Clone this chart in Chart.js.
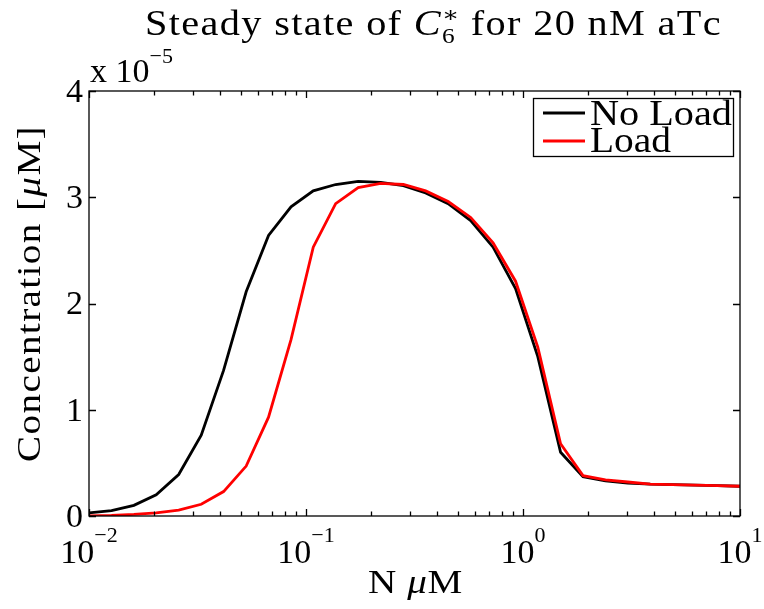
<!DOCTYPE html>
<html>
<head>
<meta charset="utf-8">
<script src="https://cdn.jsdelivr.net/npm/chart.js@4.4.0/dist/chart.umd.min.js"></script>
<style>
  html, body { margin: 0; padding: 0; background: #fff; }
  #wrap { width: 764px; height: 609px; }
</style>
</head>
<body>
<div id="wrap"><canvas id="chart" width="764" height="609"></canvas></div>
<script>
const nValues = [
  0.01, 0.0127, 0.0161, 0.0204, 0.0259, 0.0329, 0.0417, 0.0530, 0.0672, 0.0853,
  0.108, 0.137, 0.174, 0.221, 0.281, 0.356, 0.452, 0.574, 0.728, 0.924,
  1.17, 1.49, 1.89, 2.40, 3.04, 3.86, 4.89, 6.21, 7.88, 10.0
];
// concentrations in units of 1e-5 uM
const noLoad = [
  0.03, 0.05, 0.10, 0.20, 0.39, 0.76, 1.37, 2.11, 2.64, 2.91,
  3.06, 3.12, 3.15, 3.14, 3.11, 3.04, 2.94, 2.78, 2.53, 2.14,
  1.50, 0.60, 0.37, 0.33, 0.31, 0.30, 0.295, 0.29, 0.285, 0.28
];
const load = [
  0.00, 0.005, 0.015, 0.03, 0.055, 0.11, 0.23, 0.47, 0.93, 1.66,
  2.53, 2.94, 3.09, 3.13, 3.12, 3.06, 2.96, 2.81, 2.57, 2.21,
  1.59, 0.68, 0.38, 0.34, 0.32, 0.30, 0.295, 0.29, 0.285, 0.28
];
const yTicks = [0, 1, 2, 3, 4];
const xDecades = [0.01, 0.1, 1, 10];
const xTickExp = ['\u22122', '\u22121', '0', '1'];

const SERIF = '"Liberation Serif", "DejaVu Serif", serif';
const f = (size, italic) => (italic ? 'italic ' : '') + size + 'px ' + SERIF;

// runs: [text, font, dy, advance override]; sp = extra spacing per char
function runsWidth(ctx, runs, sp) {
  let w = 0;
  for (const r of runs) {
    ctx.font = r[1];
    if (r[3] !== undefined) { w += r[3]; continue; }
    for (const ch of r[0]) w += ctx.measureText(ch).width + (sp || 0);
  }
  return w;
}
function charCount(runs) {
  let n = 0;
  for (const r of runs) if (r[3] === undefined) n += r[0].length;
  return n;
}
function drawRuns(ctx, runs, x, y, sp) {
  for (const r of runs) {
    ctx.font = r[1];
    if (r[3] !== undefined) { ctx.fillText(r[0], x, y + (r[2] || 0)); x += r[3]; continue; }
    for (const ch of r[0]) {
      ctx.fillText(ch, x, y + (r[2] || 0));
      x += ctx.measureText(ch).width + (sp || 0);
    }
  }
  return x;
}
// Computer Modern is wider than Times: stretch a little, then spread letters
function drawFitted(ctx, runs, x, y, targetW) {
  const natural = runsWidth(ctx, runs, 0);
  const s = Math.max(1, Math.min(1.15, targetW / natural));
  const sp = Math.max(0, (targetW - natural * s) / charCount(runs));
  ctx.save();
  ctx.translate(x, y);
  ctx.scale(s, 1);
  drawRuns(ctx, runs, 0, 0, sp / s);
  ctx.restore();
}

const matlabAxes = {
  id: 'matlabAxes',
  afterDraw(chart) {
    const ctx = chart.ctx;
    const a = chart.chartArea;
    const xs = chart.scales.x, ys = chart.scales.y;
    ctx.save();
    ctx.strokeStyle = '#000';
    ctx.fillStyle = '#000';
    ctx.lineWidth = 1.3;
    ctx.strokeRect(a.left, a.top, a.right - a.left, a.bottom - a.top);

    // ticks (inward, all four sides)
    ctx.beginPath();
    for (const v of yTicks) {
      const py = Math.round(ys.getPixelForValue(v)) + 0.5;
      ctx.moveTo(a.left, py); ctx.lineTo(a.left + 7, py);
      ctx.moveTo(a.right, py); ctx.lineTo(a.right - 7, py);
    }
    for (let d = 0; d < xDecades.length; d++) {
      const base = xDecades[d];
      for (let m = 1; m <= 9; m++) {
        const v = base * m;
        if (v > 10.0001) break;
        const px = Math.round(xs.getPixelForValue(v)) + 0.5;
        const len = m === 1 ? 7 : 4.5;
        ctx.moveTo(px, a.bottom); ctx.lineTo(px, a.bottom - len);
        ctx.moveTo(px, a.top); ctx.lineTo(px, a.top + len);
      }
    }
    ctx.stroke();

    // y tick labels
    ctx.textAlign = 'right';
    ctx.textBaseline = 'middle';
    ctx.font = f(34);
    for (const v of yTicks) {
      ctx.fillText(String(v), a.left - 6, ys.getPixelForValue(v) + 2);
    }
    // exponent multiplier
    ctx.textAlign = 'left';
    ctx.textBaseline = 'alphabetic';
    drawRuns(ctx, [['x 10', f(34)], ['\u22125', f(22), -19]], a.left + 1, 82);

    // x tick labels, whole label centred on the decade
    for (let i = 0; i < xDecades.length; i++) {
      const px = xs.getPixelForValue(xDecades[i]);
      const runs = [['10', f(34)], [xTickExp[i], f(22), -21]];
      const w = runsWidth(ctx, runs, 0);
      drawRuns(ctx, runs, px - w / 2, 563);
    }

    // x label
    const xl = [['N ', f(34)], ['\u03bc', f(34, true)], ['M', f(34)]];
    drawFitted(ctx, xl, 368, 593, 95);

    // y label (rotated)
    const yl = [['Concentration [', f(34)], ['\u03bc', f(34, true)], ['M]', f(34)]];
    ctx.save();
    ctx.translate(40, 462);
    ctx.rotate(-Math.PI / 2);
    drawFitted(ctx, yl, 0, 0, 337);
    ctx.restore();

    // title
    ctx.font = f(22);
    const subW = ctx.measureText('6').width + 4;
    const tl = [['Steady state of ', f(35)], ['C', f(35, true)],
                ['\u2217', f(22), -13, 0], ['6', f(22), 8, subW], [' for 20 nM aTc', f(35)]];
    drawFitted(ctx, tl, 145, 35, 577);

    // legend
    const lx = 533, ly = 98, lw = 200, lh = 58;
    ctx.fillStyle = '#fff';
    ctx.fillRect(lx, ly, lw, lh);
    ctx.strokeStyle = '#000';
    ctx.lineWidth = 1.3;
    ctx.strokeRect(lx + 0.5, ly + 0.5, lw, lh);
    const items = [['No Load', '#000', 142], ['Load', '#ff0000', 81]];
    items.forEach((it, k) => {
      const yy = ly + 15 + k * 28;
      ctx.strokeStyle = it[1];
      ctx.lineWidth = 2.8;
      ctx.beginPath(); ctx.moveTo(lx + 10, yy); ctx.lineTo(lx + 52, yy); ctx.stroke();
      ctx.fillStyle = '#000';
      drawFitted(ctx, [[it[0], f(35)]], lx + 57, ly + 27 + k * 27, it[2]);
    });
    ctx.restore();
  }
};

new Chart(document.getElementById('chart'), {
  type: 'line',
  data: {
    datasets: [
      { label: 'No Load', data: nValues.map((x, i) => ({ x, y: noLoad[i] })),
        borderColor: '#000000', borderWidth: 2.8, pointRadius: 0, tension: 0, order: 2 },
      { label: 'Load', data: nValues.map((x, i) => ({ x, y: load[i] })),
        borderColor: '#ff0000', borderWidth: 2.8, pointRadius: 0, tension: 0, order: 1 }
    ]
  },
  options: {
    responsive: false,
    animation: false,
    devicePixelRatio: 1,
    layout: { padding: { left: 89, right: 24, top: 91, bottom: 93 } },
    plugins: { legend: { display: false }, tooltip: { enabled: false }, title: { display: false } },
    scales: {
      x: { type: 'logarithmic', min: 0.01, max: 10, display: false },
      y: { type: 'linear', min: 0, max: 4, display: false }
    }
  },
  plugins: [matlabAxes]
});
</script>
</body>
</html>
